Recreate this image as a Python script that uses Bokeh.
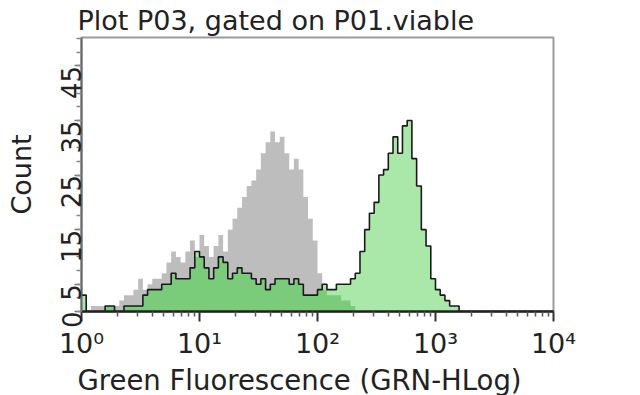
import math
import numpy as np
from bokeh.plotting import figure
from bokeh.models import Range1d, FixedTicker, Title
from bokeh.embed import file_html
from bokeh.resources import INLINE

# ---- data -------------------------------------------------------------
# histogram channels: 0.04-decade bins from 10^0 to 10^4
bin_width_decades = 0.04
n_bins = 100

# control (grey) histogram counts, bins 0..57 (rest zero)
gray_counts = [0, 0, 1, 1, 1, 1, 1, 1, 2, 3,
               3, 4, 6, 4, 5, 6, 6, 7, 9, 11,
               10, 9, 11, 13, 10, 14, 12, 10, 12, 14,
               11, 15, 17, 19, 21, 23, 24, 26, 29, 31,
               33, 31, 32, 29, 26, 28, 26, 21, 17, 13,
               7, 4, 3, 3, 3, 2, 2, 1]

# stained (green) histogram counts, bins 0..80 (rest zero)
green_counts = [3, 0, 0, 0, 0, 1, 1, 0, 0, 1,
                1, 1, 1, 3, 4, 4, 4, 5, 5, 7,
                6, 6, 6, 8, 11, 10, 8, 6, 8, 10,
                9, 6, 7, 8, 7, 7, 6, 5, 6, 4,
                5, 6, 6, 6, 5, 6, 5, 3, 3, 3,
                4, 5, 4, 4, 5, 5, 5, 6, 7, 11,
                15, 18, 20, 25, 26, 29, 32, 29, 34, 35,
                28, 23, 15, 12, 6, 4, 3, 2, 1, 1,
                0]

x_ticks = [1, 10, 100, 1000, 10000]
x_tick_labels = ["10\u2070", "10\u00b9", "10\u00b2", "10\u00b3", "10\u2074"]
y_ticks = [0, 5, 15, 25, 35, 45]
y_minor_ticks = [0, 2.5, 5, 7.5, 10, 12.5, 15, 17.5, 20, 22.5, 25, 27.5,
                 30, 32.5, 35, 37.5, 40, 42.5, 45, 47.5, 50]

title_text = "Plot P03, gated on P01.viable"
x_label = "Green Fluorescence (GRN-HLog)"
y_label = "Count"

# ---- derived ----------------------------------------------------------
edges = 10 ** (np.arange(n_bins + 1) * bin_width_decades)


def padded(counts):
    arr = np.zeros(n_bins + 1)
    arr[:len(counts)] = counts
    return arr


gray = padded(gray_counts)
green = padded(green_counts)
overlap = np.minimum(gray, green)
zeros = np.zeros(n_bins + 1)

x_minor = [m * 10 ** d for d in range(4) for m in range(2, 10)]

FONT = "DejaVu Sans"
TXT = "#222222"

p = figure(width=640, height=395, x_axis_type="log",
           x_range=Range1d(1, 1e4), y_range=Range1d(0, 50.2),
           output_backend="svg", toolbar_location=None,
           min_border_left=81, min_border_right=87,
           min_border_top=37, min_border_bottom=82)

p.title.text = title_text
p.title.text_font = FONT
p.title.text_font_size = "27px"
p.title.text_font_style = "normal"
p.title.text_color = TXT
p.title.offset = -4
p.title.standoff = 3

p.xgrid.visible = False
p.ygrid.visible = False
p.background_fill_color = "white"
p.border_fill_color = "white"
p.outline_line_color = "#9a9a9a"
p.outline_line_width = 2

p.varea_step(x=edges, y1=zeros, y2=gray, step_mode="after",
             fill_color="#bdbdbd")
p.varea_step(x=edges, y1=zeros, y2=green, step_mode="after",
             fill_color="#aae8aa")
p.varea_step(x=edges, y1=zeros, y2=overlap, step_mode="after",
             fill_color="#7acb7a")
p.step(x=edges, y=green, mode="after", line_color="#1a1a1a", line_width=1.6)

xa = p.xaxis[0]
xa.ticker = FixedTicker(ticks=x_ticks, minor_ticks=x_minor)
xa.major_label_overrides = {t: l for t, l in zip(x_ticks, x_tick_labels)}
xa.axis_line_color = "#222222"
xa.axis_line_width = 2.5
xa.major_tick_in = 0
xa.major_tick_out = 10
xa.minor_tick_in = 0
xa.minor_tick_out = 5
xa.major_tick_line_color = "#333333"
xa.major_tick_line_width = 2
xa.minor_tick_line_color = "#555555"
xa.minor_tick_line_width = 1.5
xa.major_label_text_font = FONT
xa.major_label_text_font_size = "27px"
xa.major_label_text_color = TXT
xa.major_label_standoff = 6

# x-axis label: left-aligned under the frame, like the reference
xlab = Title(text=x_label, align="left", offset=-4, standoff=0,
             text_font=FONT, text_font_size="27.5px",
             text_font_style="normal", text_color=TXT)
p.add_layout(xlab, "below")

ya = p.yaxis[0]
ya.ticker = FixedTicker(ticks=y_ticks, minor_ticks=y_minor_ticks)
ya.major_label_orientation = math.pi / 2
ya.axis_line_color = "#666666"
ya.axis_line_width = 2
ya.major_tick_in = 0
ya.major_tick_out = 7
ya.minor_tick_in = 0
ya.minor_tick_out = 5
ya.major_tick_line_color = "#777777"
ya.major_tick_line_width = 1.5
ya.minor_tick_line_color = "#888888"
ya.minor_tick_line_width = 1.5
ya.major_label_text_font = FONT
ya.major_label_text_font_size = "26px"
ya.major_label_text_color = TXT
ya.major_label_standoff = 3
ya.axis_label = y_label
ya.axis_label_text_font = FONT
ya.axis_label_text_font_size = "27px"
ya.axis_label_text_font_style = "normal"
ya.axis_label_text_color = TXT
ya.axis_label_standoff = 12

open("out.html", "w").write(file_html(p, INLINE))
